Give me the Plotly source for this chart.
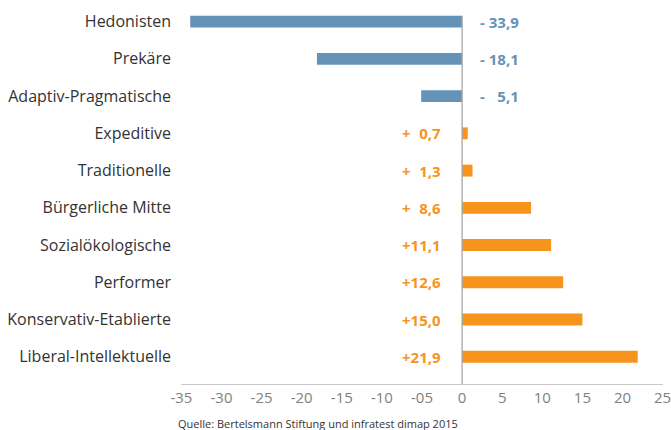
import plotly.graph_objects as go

categories = ["Hedonisten", "Prekäre", "Adaptiv-Pragmatische", "Expeditive",
              "Traditionelle", "Bürgerliche Mitte", "Sozialökologische",
              "Performer", "Konservativ-Etablierte", "Liberal-Intellektuelle"]
values = [-33.9, -18.1, -5.1, 0.7, 1.3, 8.6, 11.1, 12.6, 15.0, 21.9]
tick_vals = [-35, -30, -25, -20, -15, -10, -5, 0, 5, 10, 15, 20, 25]
tick_text = ["-35", "-30", "-25", "-20", "-15", "-10", "-05", "0", "5", "10", "15", "20", "25"]
source = "Quelle: Bertelsmann Stiftung und infratest dimap 2015"

BLUE = "#6593B8"
ORANGE = "#F7941D"
FS = "\u2007"  # figure space

def fmt(v):
    num = f"{abs(v):.1f}".replace(".", ",")
    num = num.rjust(4, FS)
    if v < 0:
        return "- " + num
    return "+" + num

colors = [BLUE if v < 0 else ORANGE for v in values]
bargap = 0.68

fig = go.Figure()
fig.add_trace(go.Bar(
    x=values, y=categories, orientation="h",
    marker=dict(color=colors, line=dict(width=0)),
    hoverinfo="x+y",
))

for c, v in zip(categories, values):
    if v < 0:
        fig.add_annotation(x=0, y=c, xref="x", yref="y", text=fmt(v),
                           showarrow=False, xanchor="left", xshift=16,
                           font=dict(family="Open Sans", size=15, color=BLUE, weight="bold"))
    else:
        fig.add_annotation(x=0, y=c, xref="x", yref="y", text=fmt(v),
                           showarrow=False, xanchor="right", xshift=-19,
                           font=dict(family="Open Sans", size=15, color=ORANGE, weight="bold"))

# vertical zero axis line
fig.add_shape(type="line", xref="x", yref="y", x0=0, x1=0,
              y0=-(1 - bargap) / 2, y1=len(categories) - 1 + 0.73,
              line=dict(color="#A6A6A6", width=1.3), layer="above")

fig.add_annotation(x=0, y=0, xref="paper", yref="paper", text=source,
                   showarrow=False, xanchor="left", yanchor="middle",
                   xshift=-5, yshift=-39,
                   font=dict(family="Open Sans", size=11, color="#333333"))

fig.update_layout(
    width=671, height=430,
    margin=dict(l=181, r=8, t=3, b=46),
    paper_bgcolor="white", plot_bgcolor="white",
    bargap=bargap, showlegend=False,
    font=dict(family="Open Sans"),
    xaxis=dict(range=[-35.05, 25.05], tickvals=tick_vals, ticktext=tick_text,
               showgrid=False, zeroline=False, showline=True,
               linecolor="#C8C8C8", linewidth=1.3, ticks="",
               tickfont=dict(family="Open Sans", size=15, color="#7F7F7F"),
               ticklabeloverflow="allow",
               automargin=False, fixedrange=True),
    yaxis=dict(range=[len(categories) - 1 + 0.73, -0.5], type="category",
               showgrid=False, zeroline=False, showline=False, ticks="",
               ticklabelstandoff=9,
               tickfont=dict(family="Open Sans", size=16, color="#333333"),
               automargin=False, fixedrange=True),
)

fig.write_html("out.html", config={"displayModeBar": False},
               post_script="document.body.style.margin='0';document.body.style.overflow='hidden';")
